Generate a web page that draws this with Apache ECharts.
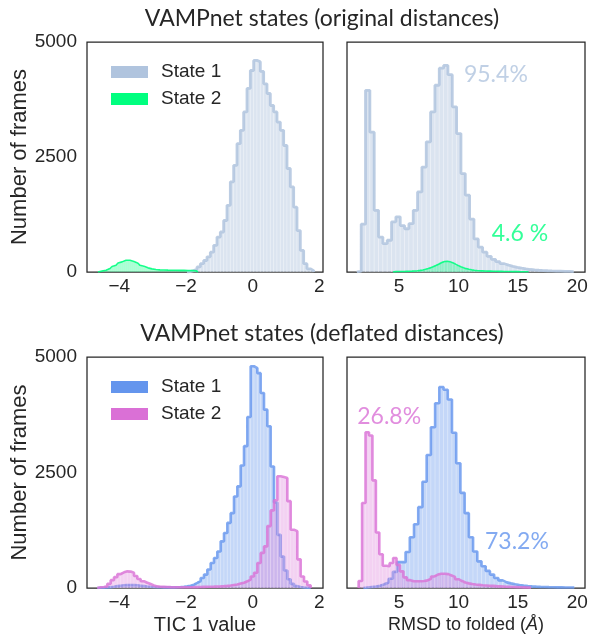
<!DOCTYPE html>
<html>
<head>
<meta charset="utf-8">
<script src="https://cdn.jsdelivr.net/npm/echarts@6/dist/echarts.min.js"></script>
<style>
  html, body { margin: 0; padding: 0; background: #fff; }
  #chart { width: 595px; height: 641px; }
</style>
</head>
<body>
<div id="chart"></div>
<script>
// ---- data ----
var titles = ['VAMPnet states (original distances)', 'VAMPnet states (deflated distances)']
var stateNames = ['State 1', 'State 2']
var ticLabelValues = [-4, -2, 0, 2]
var rmsdLabelValues = [5, 10, 15, 20]
var countTicks = [0, 2500, 5000]

// top left: TIC 1, original distances
var origTicState1Start = -1.97
var origTicState1Width = 0.1
var origTicState1Counts = [10, 30, 60, 110, 180, 250, 330, 430, 580, 760, 870, 1120, 1450, 1960, 2320, 2790,
  3080, 3480, 3990, 4380, 4600, 4570, 4360, 4090, 3880, 3620, 3480, 3260, 3080, 2750, 2250, 1850, 1410,
  900, 470, 180, 70, 30]
var origTicState2Start = -4.64
var origTicState2Width = 0.06
var origTicState2Counts = [15, 20, 30, 40, 55, 75, 95, 120, 145, 170, 195, 220, 240, 255, 260, 255, 245, 230,
  210, 190, 165, 145, 125, 105, 90, 78, 68, 60, 55, 50, 47, 45, 43, 42, 40, 40, 38, 38, 37, 37, 36, 36, 35,
  35, 34, 33, 32, 30, 28, 25]

// top right: RMSD, original distances
var origRmsdState1Start = 1.45
var origRmsdState1Width = 0.365
var origRmsdState1Counts = [20, 1040, 3950, 3040, 1340, 760, 615, 690, 1090, 1200, 1010, 940, 1050, 1340,
  1740, 2280, 2830, 3480, 4060, 4430, 4490, 4290, 3590, 3010, 2140, 1670, 1150, 720, 540, 430, 340, 275,
  225, 180, 150, 123, 100, 82, 66, 54, 45, 38, 32, 27, 23, 20, 17, 14, 12, 10]
var origRmsdState2Start = 4.5
var origRmsdState2Width = 0.228
var origRmsdState2Counts = [8, 10, 11, 12, 14, 16, 19, 23, 28, 35, 45, 58, 75, 95, 120, 145, 175, 205, 228,
  232, 222, 200, 172, 142, 115, 92, 73, 58, 47, 39, 33, 28, 25, 22, 20, 18, 16, 15, 14, 13, 12, 11, 10, 9,
  8, 8, 7, 6, 6, 5]

// bottom left: TIC 1, deflated distances
var deflTicState1Start = -4.66
var deflTicState1Width = 0.1
var deflTicState1Counts = [5, 8, 12, 18, 28, 40, 50, 58, 62, 65, 62, 58, 50, 42, 34, 27, 22, 18, 15, 14, 13,
  13, 14, 16, 20, 26, 36, 50, 72, 110, 150, 216, 290, 400, 540, 650, 790, 1010, 1190, 1410, 1620, 1980,
  2200, 2650, 3070, 3700, 4800, 4760, 4650, 4220, 3860, 3500, 2630, 1850, 1150, 680, 380, 190, 90, 40,
  20, 10, 5, 3]
var deflTicState2Start = -4.66
var deflTicState2Width = 0.1
var deflTicState2Counts = [15, 20, 35, 90, 170, 235, 300, 340, 360, 355, 330, 260, 195, 145, 115, 85, 55, 35,
  28, 25, 22, 18, 16, 15, 15, 15, 16, 17, 18, 20, 22, 24, 26, 28, 30, 33, 36, 40, 46, 55, 65, 75, 95, 115,
  145, 180, 250, 330, 540, 760, 900, 1340, 1680, 1900, 2420, 2400, 2380, 1880, 1260, 1230, 620, 250, 140, 60]

// bottom right: RMSD, deflated distances
var deflRmsdState1Start = 2.0
var deflRmsdState1Width = 0.355
var deflRmsdState1Counts = [10, 20, 30, 50, 80, 120, 200, 350, 560, 560, 780, 1100, 1380, 1750, 2300, 2880,
  3480, 4000, 4350, 4290, 4080, 3360, 2700, 2060, 1620, 1100, 790, 577, 470, 370, 290, 216, 165, 122, 100,
  80, 65, 52, 43, 35, 29, 25, 22, 18, 16, 14, 13, 12, 11, 10]
var deflRmsdState2Start = 1.6
var deflRmsdState2Width = 0.29
var deflRmsdState2Counts = [150, 1840, 3370, 3300, 2330, 1200, 730, 480, 470, 540, 650, 500, 360, 230, 170,
  145, 145, 145, 150, 165, 200, 250, 290, 310, 310, 300, 270, 240, 190, 150, 120, 100, 85, 75, 68, 60, 55,
  50, 45, 40, 36, 32, 28, 25, 22, 19, 16, 13, 10, 8]

// percentage annotations: [x, count, text]
var origPercentLabels = [[13.15, 4283, '95.4%'], [15.17, 826, '4.6 %']]
var deflPercentLabels = [[14.92, 1000, '73.2%'], [4.17, 3703, '26.8%']]

// ---- styling ----
var INK = '#262626'
var TICK_FONT = '"Liberation Sans", Arial, sans-serif'
var NOTE_FONT = 'Lato'
var topColors = ['#B0C4DE', '#00FF7F']
var bottomColors = ['#6495ED', '#DA70D6']

var grids = [
  { left: 87, top: 42, width: 236, height: 230 },
  { left: 347, top: 42, width: 238, height: 230 },
  { left: 87, top: 357, width: 236, height: 231 },
  { left: 347, top: 357, width: 238, height: 231 }
]

function minusSign (v) {
  return String(v).replace('-', '\u2212')
}

function binRows (start, width, counts) {
  return counts.map(function (c, i) {
    return [start + i * width, start + (i + 1) * width, c]
  })
}

function stepPoints (start, width, counts) {
  var pts = [[start, 0]]
  counts.forEach(function (c, i) {
    pts.push([start + i * width, c])
  })
  var end = start + counts.length * width
  pts.push([end, counts[counts.length - 1]])
  pts.push([end, 0])
  return pts
}

function histSeries (gridIdx, name, color, start, width, counts, opts) {
  var z = opts.z
  var bars = {
    type: 'custom',
    name: name,
    xAxisIndex: gridIdx,
    yAxisIndex: gridIdx,
    silent: true,
    z: z,
    itemStyle: { color: color },
    encode: { x: [0, 1], y: 2 },
    data: binRows(start, width, counts),
    renderItem: function (params, api) {
      var p0 = api.coord([api.value(0), api.value(2)])
      var p1 = api.coord([api.value(1), 0])
      return {
        type: 'rect',
        shape: { x: p0[0], y: p0[1], width: p1[0] - p0[0], height: p1[1] - p0[1] },
        style: {
          fill: color,
          opacity: opts.fillOpacity,
          stroke: opts.edge,
          lineWidth: opts.edgeWidth
        }
      }
    }
  }
  var outline = {
    type: 'line',
    xAxisIndex: gridIdx,
    yAxisIndex: gridIdx,
    step: 'end',
    symbol: 'none',
    silent: true,
    z: z + 1,
    lineStyle: { color: color, width: opts.lineWidth, opacity: opts.lineOpacity },
    data: stepPoints(start, width, counts)
  }
  return [bars, outline]
}

function noteSeries (gridIdx, labels, colors) {
  return {
    type: 'scatter',
    xAxisIndex: gridIdx,
    yAxisIndex: gridIdx,
    symbolSize: 0,
    silent: true,
    z: 10,
    data: labels.map(function (l, i) {
      return {
        value: [l[0], l[1]],
        label: {
          show: true,
          position: 'inside',
          formatter: l[2],
          color: colors[i],
          fontFamily: NOTE_FONT,
          fontSize: 23
        }
      }
    })
  }
}

var xAxes = grids.map(function (g, i) {
  var isTic = i % 2 === 0
  var ax = {
    type: 'value',
    gridIndex: i,
    min: isTic ? -4.97 : 0.62,
    max: isTic ? 2.11 : 20.65,
    axisLine: { show: false },
    axisTick: { show: false },
    splitLine: { show: false },
    axisLabel: {
      customValues: isTic ? ticLabelValues : rmsdLabelValues,
      formatter: minusSign,
      color: INK,
      fontFamily: TICK_FONT,
      fontSize: 19,
      margin: 5
    }
  }
  if (i === 2) {
    ax.name = 'TIC 1 value'
    ax.nameLocation = 'middle'
    ax.nameGap = 27
    ax.nameTextStyle = { color: INK, fontFamily: TICK_FONT, fontSize: 20 }
  }
  if (i === 3) {
    ax.name = '{n|RMSD to folded (}{i|Å}{n|)}'
    ax.nameLocation = 'middle'
    ax.nameGap = 28
    ax.nameTextStyle = {
      rich: {
        n: { color: INK, fontFamily: TICK_FONT, fontSize: 18 },
        i: { color: INK, fontFamily: TICK_FONT, fontSize: 18, fontStyle: 'italic' }
      }
    }
  }
  return ax
})

var yAxes = grids.map(function (g, i) {
  var isLeft = i % 2 === 0
  var ax = {
    type: 'value',
    gridIndex: i,
    min: countTicks[0],
    max: countTicks[countTicks.length - 1],
    interval: countTicks[1] - countTicks[0],
    axisLine: { show: false },
    axisTick: { show: false },
    splitLine: { show: false },
    axisLabel: {
      show: isLeft,
      formatter: function (v) { return String(v) },
      color: INK,
      fontFamily: TICK_FONT,
      fontSize: 19,
      margin: 10
    }
  }
  if (isLeft) {
    ax.name = 'Number of frames'
    ax.nameLocation = 'middle'
    ax.nameGap = 54
    ax.nameTextStyle = { color: INK, fontFamily: TICK_FONT, fontSize: 22 }
  }
  return ax
})

var lightStyle = { fillOpacity: 0.45, edge: 'rgba(255,255,255,0.75)', edgeWidth: 0.8, lineWidth: 2.8, lineOpacity: 0.85 }
var greenStyle = { fillOpacity: 0.35, edge: 'rgba(255,255,255,0.6)', edgeWidth: 0.5, lineWidth: 1.6, lineOpacity: 0.9 }
var blueStyle = { fillOpacity: 0.38, edge: 'rgba(255,255,255,0.7)', edgeWidth: 0.8, lineWidth: 2.6, lineOpacity: 0.8 }
var pinkStyle = { fillOpacity: 0.32, edge: 'rgba(255,255,255,0.6)', edgeWidth: 0.8, lineWidth: 2.6, lineOpacity: 0.8 }

function withZ (style, z) {
  return Object.assign({ z: z }, style)
}

var series = [].concat(
  histSeries(0, stateNames[0], topColors[0], origTicState1Start, origTicState1Width, origTicState1Counts, withZ(lightStyle, 2)),
  histSeries(0, stateNames[1], topColors[1], origTicState2Start, origTicState2Width, origTicState2Counts, withZ(greenStyle, 4)),
  histSeries(1, stateNames[0], topColors[0], origRmsdState1Start, origRmsdState1Width, origRmsdState1Counts, withZ(lightStyle, 2)),
  histSeries(1, stateNames[1], topColors[1], origRmsdState2Start, origRmsdState2Width, origRmsdState2Counts, withZ(greenStyle, 4)),
  histSeries(2, stateNames[0], bottomColors[0], deflTicState1Start, deflTicState1Width, deflTicState1Counts, withZ(blueStyle, 2)),
  histSeries(2, stateNames[1], bottomColors[1], deflTicState2Start, deflTicState2Width, deflTicState2Counts, withZ(pinkStyle, 4)),
  histSeries(3, stateNames[0], bottomColors[0], deflRmsdState1Start, deflRmsdState1Width, deflRmsdState1Counts, withZ(blueStyle, 2)),
  histSeries(3, stateNames[1], bottomColors[1], deflRmsdState2Start, deflRmsdState2Width, deflRmsdState2Counts, withZ(pinkStyle, 4)),
  [noteSeries(1, origPercentLabels, topColors), noteSeries(3, deflPercentLabels, bottomColors)]
)

function legendFor (top, colors) {
  return {
    left: 106,
    top: top,
    orient: 'vertical',
    itemWidth: 37,
    itemHeight: 12,
    itemGap: 7,
    selectedMode: false,
    textStyle: { color: INK, fontFamily: TICK_FONT, fontSize: 19, lineHeight: 20, padding: [0, 0, 0, 8] },
    data: stateNames.map(function (n, i) {
      return { name: n, icon: 'rect', itemStyle: { color: colors[i], opacity: 1, borderWidth: 0 } }
    })
  }
}

var chart = echarts.init(document.getElementById('chart'))
chart.setOption({
  animation: false,
  backgroundColor: '#fff',
  graphic: [
    { type: 'text', x: 322, y: 19, style: { text: titles[0], fill: INK, font: '23px Lato', align: 'center', verticalAlign: 'middle' } },
    { type: 'text', x: 322, y: 334, style: { text: titles[1], fill: INK, font: '23px Lato', align: 'center', verticalAlign: 'middle' } }
  ],
  legend: [legendFor(57, topColors), legendFor(372, bottomColors)],
  grid: grids.map(function (g) {
    return Object.assign({ show: true, borderColor: INK, borderWidth: 1.25, backgroundColor: 'transparent' }, g)
  }),
  xAxis: xAxes,
  yAxis: yAxes,
  series: series
})
</script>
</body>
</html>
